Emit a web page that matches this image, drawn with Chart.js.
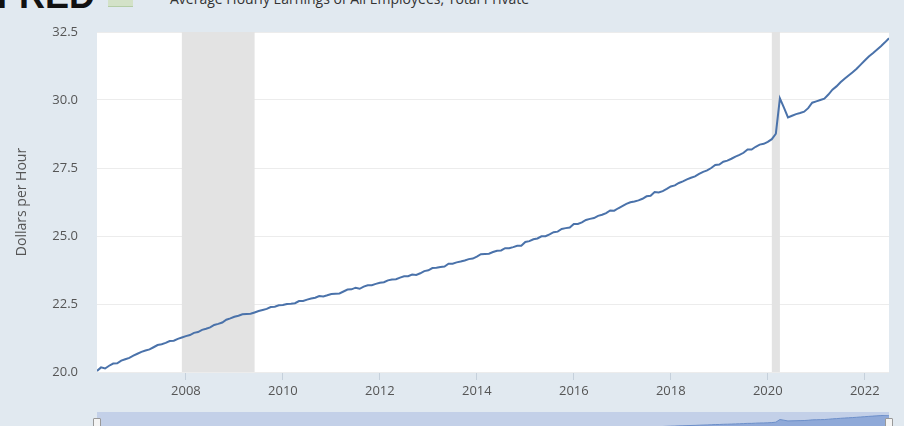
<!DOCTYPE html>
<html>
<head>
<meta charset="utf-8">
<script src="https://cdn.jsdelivr.net/npm/chart.js@4/dist/chart.umd.min.js"></script>
<style>
  html, body { margin: 0; padding: 0; width: 904px; height: 426px; overflow: hidden; background: #e1e9f0; }
  #logo { position: absolute; left: -3px; top: -25px; font: bold 36px "Liberation Sans", Arial, sans-serif; color: #111; }
  #icon { position: absolute; left: 108px; top: 0px; width: 25px; height: 6px; background: #d3e2c8; border-bottom: 1px solid #b4cda6; }
  #title { position: absolute; left: 170px; top: -11px; font: 14px "Open Sans", sans-serif; color: #333; white-space: nowrap; }
  #main { position: absolute; left: 0; top: 0; }
  #navbg { position: absolute; left: 97px; top: 412px; width: 792px; height: 20px; background: #c3d0e8; }
  #nav { position: absolute; left: 0; top: 400px; }
  .handle { position: absolute; top: 418px; width: 6px; height: 9px; background: #f4f4f4; border: 1px solid #999; border-radius: 1px; }
</style>
</head>
<body>
<div id="logo">FRED</div>
<div id="icon"></div>
<div id="title">Average Hourly Earnings of All Employees, Total Private</div>
<canvas id="main" width="904" height="400"></canvas>
<div id="navbg"></div>
<canvas id="nav" width="904" height="40"></canvas>
<div class="handle" style="left:93px"></div>
<div class="handle" style="left:885px"></div>
<script>
// ---- data (monthly, Mar 2006 .. Jul 2022) ----
const startYear = 2006;
const startMonth = 3;
const earnings = [
  // 2006 (Mar-Dec)
  20.04, 20.17, 20.13, 20.23, 20.31, 20.32, 20.42, 20.47, 20.52, 20.60,
  // 2007
  20.67, 20.74, 20.79, 20.83, 20.91, 20.99, 21.02, 21.07, 21.14, 21.15, 21.22, 21.27,
  // 2008
  21.32, 21.36, 21.44, 21.47, 21.55, 21.59, 21.64, 21.73, 21.77, 21.82, 21.92, 21.97,
  // 2009
  22.03, 22.07, 22.12, 22.13, 22.14, 22.19, 22.24, 22.28, 22.32, 22.39, 22.40, 22.45,
  // 2010
  22.46, 22.50, 22.51, 22.53, 22.61, 22.61, 22.66, 22.70, 22.73, 22.79, 22.78, 22.82,
  // 2011
  22.87, 22.88, 22.89, 22.96, 23.03, 23.04, 23.10, 23.06, 23.14, 23.19, 23.19, 23.24,
  // 2012
  23.28, 23.30, 23.37, 23.40, 23.41, 23.47, 23.52, 23.52, 23.58, 23.57, 23.63, 23.71,
  // 2013
  23.74, 23.82, 23.83, 23.86, 23.88, 23.98, 23.98, 24.03, 24.06, 24.10, 24.15, 24.17,
  // 2014
  24.24, 24.33, 24.34, 24.35, 24.41, 24.46, 24.47, 24.55, 24.55, 24.59, 24.64, 24.64,
  // 2015
  24.78, 24.81, 24.88, 24.91, 24.99, 24.99, 25.06, 25.14, 25.16, 25.26, 25.29, 25.31,
  // 2016
  25.44, 25.44, 25.50, 25.59, 25.63, 25.66, 25.74, 25.78, 25.84, 25.94, 25.93, 26.02,
  // 2017
  26.10, 26.18, 26.24, 26.27, 26.31, 26.37, 26.46, 26.48, 26.62, 26.60, 26.65, 26.73,
  // 2018
  26.82, 26.86, 26.95, 27.01, 27.08, 27.14, 27.19, 27.28, 27.36, 27.41, 27.50, 27.61,
  // 2019
  27.63, 27.73, 27.77, 27.84, 27.92, 27.98, 28.06, 28.18, 28.18, 28.28, 28.36, 28.39,
  // 2020
  28.46, 28.56, 28.76, 30.06, 29.72, 29.36, 29.42, 29.48, 29.52, 29.57, 29.70, 29.90,
  // 2021
  29.95, 30.00, 30.05, 30.20, 30.38, 30.50, 30.65, 30.78, 30.90, 31.02, 31.15, 31.30,
  // 2022 (Jan-Jul)
  31.45, 31.60, 31.72, 31.85, 31.98, 32.12, 32.27
];
const xTickYears = [2008, 2010, 2012, 2014, 2016, 2018, 2020, 2022];
const yTicks = [20.0, 22.5, 25.0, 27.5, 30.0, 32.5];
const recessionStarts = [2007 + 11/12, 2020 + 1/12];
const recessionEnds   = [2009 + 5/12, 2020 + 3/12];
const yTitle = 'Dollars per Hour';

const points = earnings.map((v, i) => ({ x: startYear + (startMonth - 1 + i) / 12, y: v }));
const xMin = points[0].x;
const xMax = points[points.length - 1].x;

const bgPlugin = {
  id: 'bg',
  beforeDraw(chart) {
    const { ctx, chartArea: a } = chart;
    ctx.save();
    ctx.fillStyle = '#ffffff';
    ctx.fillRect(a.left, a.top, a.right - a.left, a.bottom - a.top);
    ctx.restore();
  },
  beforeDatasetsDraw(chart) {
    const { ctx, chartArea: a, scales } = chart;
    ctx.save();
    ctx.fillStyle = '#e3e3e3';
    for (let i = 0; i < recessionStarts.length; i++) {
      const x0 = scales.x.getPixelForValue(recessionStarts[i]);
      const x1 = scales.x.getPixelForValue(recessionEnds[i]);
      ctx.fillRect(x0, a.top, x1 - x0, a.bottom - a.top);
    }
    ctx.restore();
  }
};

new Chart(document.getElementById('main'), {
  type: 'line',
  data: { datasets: [{ data: points, borderColor: '#4a72aa', borderWidth: 2, pointRadius: 0, tension: 0, fill: false }] },
  options: {
    responsive: false, animation: false, events: [],
    layout: { padding: { top: 32, right: 15, left: 0, bottom: 0 } },
    plugins: { legend: { display: false }, tooltip: { enabled: false } },
    scales: {
      x: {
        type: 'linear', min: xMin, max: xMax,
        afterBuildTicks(s) { s.ticks = xTickYears.map(v => ({ value: v })); },
        afterFit(s) { s.height = 28; },
        ticks: { autoSkip: false, maxRotation: 0, padding: 3, color: '#555', font: { family: 'Open Sans', size: 13 }, callback: v => String(v) },
        grid: { drawOnChartArea: false, drawTicks: true, tickLength: 8, color: '#c5d0db' },
        border: { display: false }
      },
      y: {
        min: 20, max: 32.5,
        afterBuildTicks(s) { s.ticks = yTicks.map(v => ({ value: v })); },
        afterFit(s) { s.width = 97; },
        ticks: { padding: 19, color: '#555', font: { family: 'Open Sans', size: 13 }, callback: v => Number(v).toFixed(1) },
        grid: { drawTicks: false, color: '#ececec' },
        border: { display: false },
        title: { display: true, text: yTitle, color: '#555', font: { family: 'Open Sans', size: 14 }, padding: { top: 14, bottom: 0 } }
      }
    }
  },
  plugins: [bgPlugin]
});

new Chart(document.getElementById('nav'), {
  type: 'line',
  data: { datasets: [{ data: points, borderColor: '#6d8fc9', borderWidth: 1, backgroundColor: '#8fa9d8', pointRadius: 0, tension: 0, fill: 'start' }] },
  options: {
    responsive: false, animation: false, events: [],
    layout: { padding: { top: 15, right: 15, left: 97, bottom: 0 } },
    plugins: { legend: { display: false }, tooltip: { enabled: false } },
    scales: {
      x: { type: 'linear', min: xMin, max: xMax, display: false },
      y: { min: 20.04, max: 32.27, display: false }
    }
  }
});
</script>
</body>
</html>
